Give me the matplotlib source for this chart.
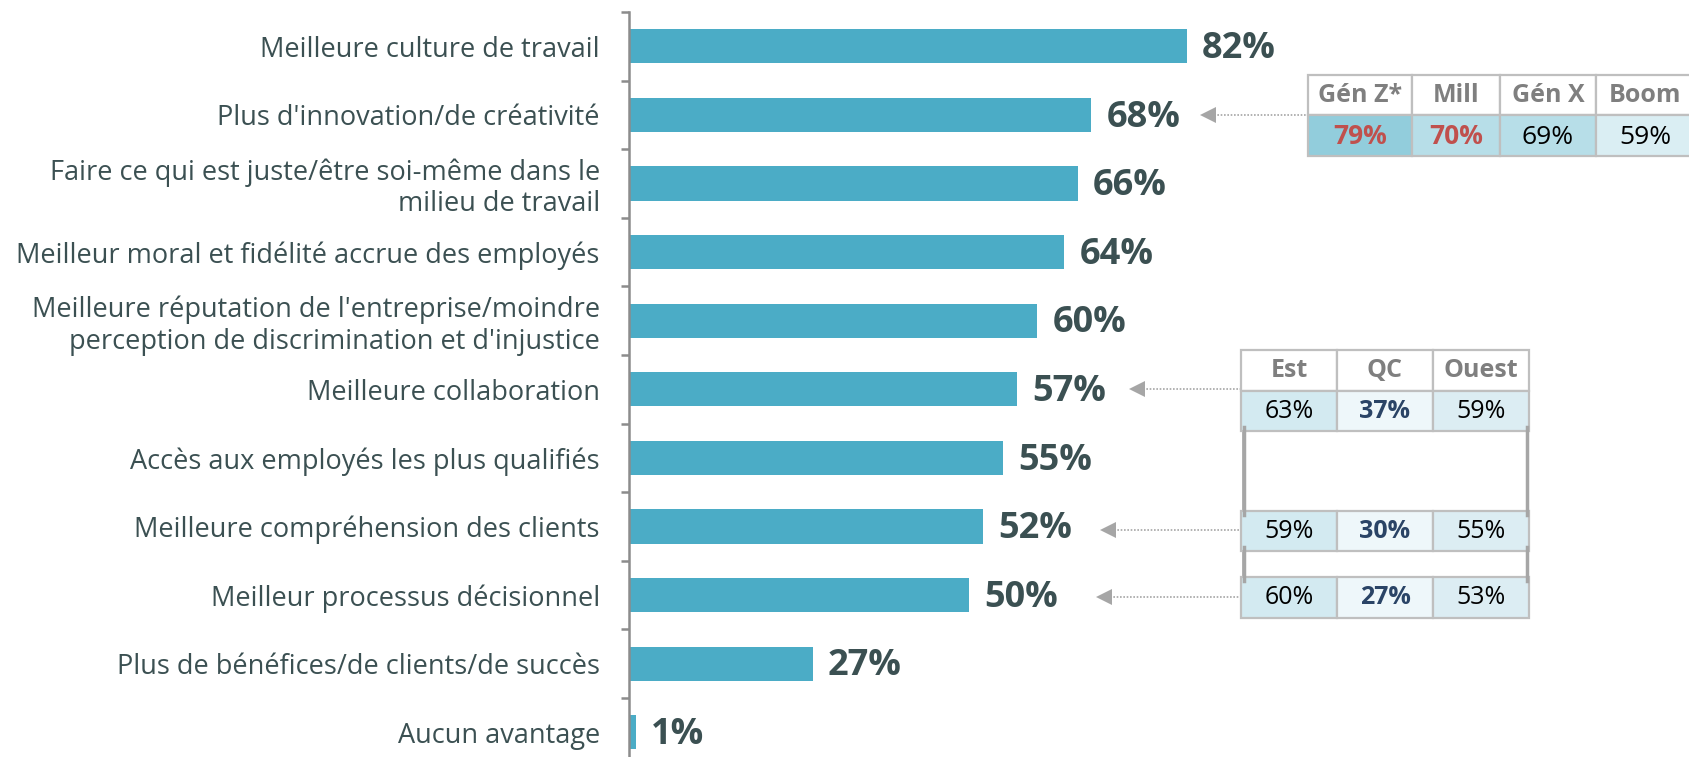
import matplotlib
matplotlib.use("Agg")
import matplotlib.pyplot as plt
from matplotlib.patches import Rectangle
from matplotlib.lines import Line2D

plt.rcParams["font.family"] = ["Open Sans", "DejaVu Sans"]

# ── Data ──────────────────────────────────────────────────────────────────────
categories = [
    "Meilleure culture de travail",
    "Plus d'innovation/de créativité",
    "Faire ce qui est juste/être soi-même dans le\nmilieu de travail",
    "Meilleur moral et fidélité accrue des employés",
    "Meilleure réputation de l'entreprise/moindre\nperception de discrimination et d'injustice",
    "Meilleure collaboration",
    "Accès aux employés les plus qualifiés",
    "Meilleure compréhension des clients",
    "Meilleur processus décisionnel",
    "Plus de bénéfices/de clients/de succès",
    "Aucun avantage",
]
values = [82, 68, 66, 64, 60, 57, 55, 52, 50, 27, 1]

gen_cols = ["Gén Z*", "Mill", "Gén X", "Boom"]
gen_vals = ["79%", "70%", "69%", "59%"]
gen_highlight = [True, True, False, False]

region_cols = ["Est", "QC", "Ouest"]
region_rows = {
    5: ["63%", "37%", "59%"],
    7: ["59%", "30%", "55%"],
    8: ["60%", "27%", "53%"],
}

# ── Style ─────────────────────────────────────────────────────────────────────
W, H = 1690, 757
BAR = "#4bacc6"
TXT = "#3b5052"
GRID = "#bfbfbf"
HEAD = "#7f7f7f"

fig = plt.figure(figsize=(W / 100, H / 100), dpi=100)


def fx(x):
    return x / W


def fy(y):
    return 1 - y / H


# main axes: x=0 at px 629, 6.8 px per %, bands 68.6 px starting at px 12
ax_left, ax_top, band = 629, 12, 68.6
n = len(categories)
ax = fig.add_axes([fx(ax_left), fy(ax_top + band * n), fx(W - ax_left), band * n / H])
ax.barh(range(n), values, height=0.5, color=BAR)
ax.set_xlim(0, (W - ax_left) / 6.8)
ax.set_ylim(n - 0.5, -0.5)

for s in ["top", "right", "bottom"]:
    ax.spines[s].set_visible(False)
ax.spines["left"].set_color("#8c8c8c")
ax.spines["left"].set_linewidth(1.8)
ax.set_xticks([])
ax.set_yticks(range(n))
ax.set_yticklabels(categories, fontsize=19.5, color=TXT, linespacing=1.15)
ax.tick_params(axis="y", length=0, pad=21)
ax.set_yticks([i - 0.5 for i in range(n + 1)], minor=True)
ax.tick_params(axis="y", which="minor", length=6, width=1.8, color="#8c8c8c")

for i, v in enumerate(values):
    ax.annotate(f"{v}%", (v, i), xytext=(11, -2), textcoords="offset points",
                ha="left", va="center", fontsize=26, fontweight="bold", color=TXT)


# ── Arrows ────────────────────────────────────────────────────────────────────
def arrow(x_tip, x_end, y):
    fig.add_artist(Line2D([fx(x_tip + 14), fx(x_end)], [fy(y), fy(y)],
                          transform=fig.transFigure, color="#a6a6a6",
                          lw=1.2, linestyle=(0, (1, 1))))
    fig.add_artist(plt.Polygon([[fx(x_tip), fy(y)], [fx(x_tip + 16), fy(y - 8)],
                                [fx(x_tip + 16), fy(y + 8)]], closed=True,
                               transform=fig.transFigure, color="#a6a6a6", lw=0))


arrow(1200, 1306, 115)
arrow(1129, 1240, 389)
arrow(1100, 1240, 530)
arrow(1096, 1240, 597)


def cell(x0, y0, x1, y1, face, ec=GRID, lw=1.6):
    fig.add_artist(Rectangle((fx(x0), fy(y1)), fx(x1) - fx(x0), (y1 - y0) / H,
                             transform=fig.transFigure, facecolor=face,
                             edgecolor=ec, linewidth=lw))


def ctext(x, y, s, **kw):
    fig.text(fx(x), fy(y), s, ha="center", va="center", **kw)


# ── Generation table ──────────────────────────────────────────────────────────
gx = [1308, 1412, 1500, 1596, 1694]
gen_fill = ["#92cddc", "#b7dee8", "#b7dee8", "#daeef3"]
for j, c in enumerate(gen_cols):
    cell(gx[j], 75, gx[j + 1], 115, "white")
    cell(gx[j], 115, gx[j + 1], 156, gen_fill[j])
    ctext((gx[j] + gx[j + 1]) / 2, 96, c, fontsize=18, fontweight="bold", color=HEAD)
    if gen_highlight[j]:
        ctext((gx[j] + gx[j + 1]) / 2, 137, gen_vals[j], fontsize=19,
              fontweight="bold", color="#c0504d")
    else:
        ctext((gx[j] + gx[j + 1]) / 2, 137, gen_vals[j], fontsize=19, color="black")

# ── Region table ──────────────────────────────────────────────────────────────
rx = [1241, 1337, 1433, 1529]
reg_fill = ["#d3eaf1", "#eef7fa", "#dcedf3"]
row_y = {5: (391, 431), 7: (511, 551), 8: (577, 618)}

# blank spacer boxes between rows
for y0, y1 in [(431, 511), (551, 577)]:
    cell(rx[0] + 2, y0, rx[-1] - 1, y1, "white", ec="#a6a6a6", lw=1.2)
    for xb in (rx[0] + 3, rx[-1] - 2):
        fig.add_artist(Line2D([fx(xb), fx(xb)], [fy(y0 - 4), fy(y1 + 4)],
                              transform=fig.transFigure, color="#a6a6a6", lw=2.5))

for j, c in enumerate(region_cols):
    xc = (rx[j] + rx[j + 1]) / 2
    cell(rx[j], 350, rx[j + 1], 391, "white")
    ctext(xc, 371, c, fontsize=18, fontweight="bold", color=HEAD)
    for key, vals in region_rows.items():
        y0, y1 = row_y[key]
        cell(rx[j], y0, rx[j + 1], y1, reg_fill[j])
        if c == "QC":
            ctext(xc, (y0 + y1) / 2, vals[j], fontsize=18, fontweight="bold", color="#2a4466")
        else:
            ctext(xc, (y0 + y1) / 2, vals[j], fontsize=18, color="black")

fig.savefig("out.png", dpi=100)
